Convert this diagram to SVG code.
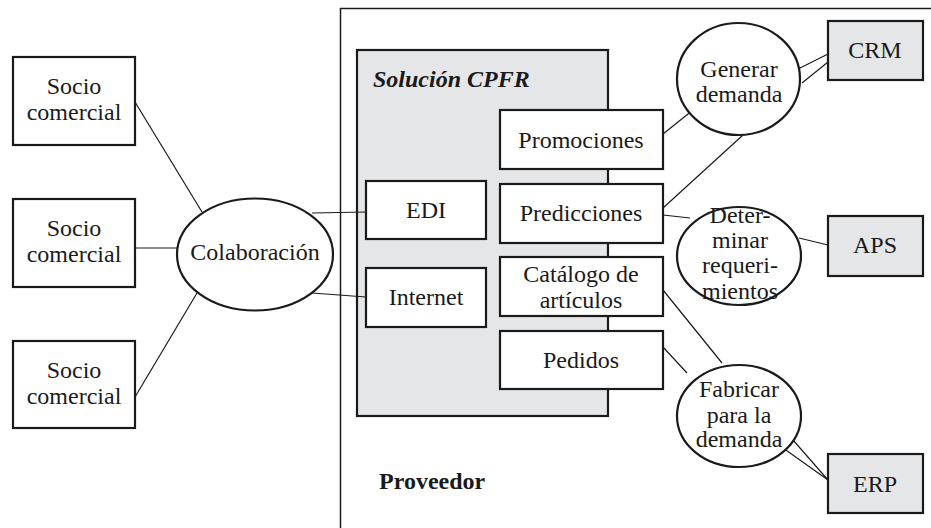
<svg xmlns="http://www.w3.org/2000/svg" width="931" height="528" viewBox="0 0 931 528">
<style>
text{font-size:24px;fill:#1a1a1a;text-anchor:middle}
.box{fill:#fff;stroke:#1a1a1a;stroke-width:2.2}
.gbox{fill:#e5e6e8;stroke:#1a1a1a;stroke-width:2.2}
.ell{fill:#fff;stroke:#1a1a1a;stroke-width:2.2}
.conn line{stroke:#1a1a1a;stroke-width:1.2}
.b{font-weight:bold;text-anchor:start}
.bi{font-weight:bold;font-style:italic;text-anchor:start}
</style>
<g font-family="'Liberation Serif', 'Times New Roman', 'DejaVu Serif', serif">
<g id="proveedor">
<path d="M931 8.5 H340.5 V528" fill="none" stroke="#1a1a1a" stroke-width="1.5"/>
<text class="b" x="379" y="489">Proveedor</text>
</g>
<g id="cpfr">
<rect class="gbox" x="357" y="50" width="251" height="366"/>
<text class="bi" x="373" y="87">Solución CPFR</text>
</g>
<g class="conn" id="connectors">
<line x1="135" y1="102" x2="202" y2="212"/>
<line x1="135" y1="248" x2="177" y2="248"/>
<line x1="135" y1="397" x2="197" y2="293"/>
<line x1="312" y1="213" x2="366" y2="212"/>
<line x1="312" y1="293" x2="366" y2="297"/>
<line x1="798" y1="69" x2="828" y2="54"/>
<line x1="802" y1="83" x2="828" y2="62"/>
<line x1="663" y1="134" x2="693" y2="110"/>
<line x1="663" y1="208" x2="743" y2="135"/>
<line x1="663" y1="215" x2="690" y2="218"/>
<line x1="799" y1="238" x2="828" y2="245"/>
<line x1="663" y1="290" x2="722" y2="363"/>
<line x1="663" y1="347" x2="687" y2="373"/>
<line x1="793" y1="440" x2="828" y2="480"/>
<line x1="783" y1="448" x2="828" y2="480"/>
</g>
<g id="socio1"><rect class="box" x="13" y="57" width="122" height="88"/><text x="74" y="94">Socio</text><text x="74" y="120">comercial</text></g>
<g id="socio2"><rect class="box" x="13" y="199" width="122" height="88"/><text x="74" y="236">Socio</text><text x="74" y="262">comercial</text></g>
<g id="socio3"><rect class="box" x="13" y="341" width="122" height="87"/><text x="74" y="378">Socio</text><text x="74" y="404">comercial</text></g>
<g id="colaboracion"><ellipse class="ell" cx="255" cy="254.5" rx="78" ry="56"/><text x="255" y="260">Colaboración</text></g>
<g id="edi"><rect class="box" x="366" y="181" width="120" height="58"/><text x="426" y="218">EDI</text></g>
<g id="internet"><rect class="box" x="366" y="268" width="120" height="59"/><text x="426" y="305">Internet</text></g>
<g id="promociones"><rect class="box" x="500" y="110" width="163" height="59"/><text x="581" y="148">Promociones</text></g>
<g id="predicciones"><rect class="box" x="500" y="184" width="163" height="59"/><text x="581" y="221">Predicciones</text></g>
<g id="catalogo"><rect class="box" x="500" y="257" width="163" height="59"/><text x="581" y="282">Catálogo de</text><text x="581" y="308">artículos</text></g>
<g id="pedidos"><rect class="box" x="500" y="331" width="163" height="58"/><text x="581" y="368">Pedidos</text></g>
<g id="generar"><ellipse class="ell" cx="738.5" cy="79" rx="61.5" ry="56"/><text x="739" y="77">Generar</text><text x="739" y="102">demanda</text></g>
<g id="determinar"><ellipse class="ell" cx="739" cy="256" rx="62" ry="49"/><text x="740" y="223">Deter-</text><text x="740" y="248">minar</text><text x="740" y="273">requeri-</text><text x="740" y="299">mientos</text></g>
<g id="fabricar"><ellipse class="ell" cx="739" cy="416" rx="62" ry="51"/><text x="739" y="397">Fabricar</text><text x="739" y="423">para la</text><text x="739" y="447">demanda</text></g>
<g id="crm"><rect class="gbox" x="828" y="21" width="95" height="59"/><text x="875" y="58">CRM</text></g>
<g id="aps"><rect class="gbox" x="828" y="216" width="95" height="60"/><text x="875" y="253">APS</text></g>
<g id="erp"><rect class="gbox" x="828" y="454" width="95" height="59"/><text x="875" y="492">ERP</text></g>
</g>
</svg>
